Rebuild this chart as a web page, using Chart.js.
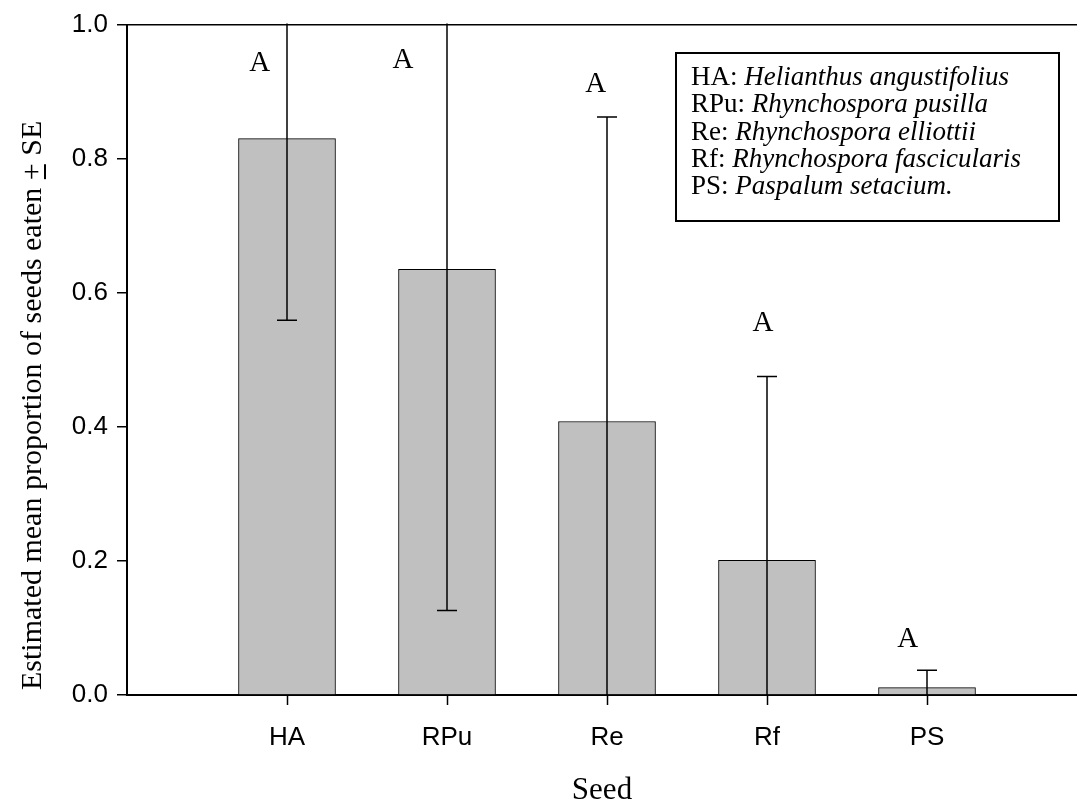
<!DOCTYPE html>
<html lang="en">

<head>
    <meta charset="UTF-8">
    <title>Estimated mean proportion of seeds eaten</title>
    <script src="https://cdn.jsdelivr.net/npm/chart.js"></script>
    <style>
        body { margin: 0; background: #fff; }
        #wrap { position: relative; width: 1077px; height: 804px; }
    </style>
</head>

<body>
    <div id="wrap">
        <canvas id="seedChart"></canvas>
    </div>

    <script>
        // seed codes and estimated means (+ SE)
        const seedCodes = ['HA', 'RPu', 'Re', 'Rf', 'PS'];
        const seedMeans = [0.830, 0.635, 0.408, 0.201, 0.011];
        const seedSE = [0.271, 0.509, 0.454, 0.274, 0.026];
        const yTicks = [0, 0.2, 0.4, 0.6, 0.8, 1.0];

        // significance letters and where they sit (data units)
        const letterText = ['A', 'A', 'A', 'A', 'A'];
        const letterX = [0.83, 1.725, 2.93, 3.975, 4.88];
        const letterY = [0.942, 0.946, 0.911, 0.554, 0.083];

        // legend box text
        const legendCodes = ['HA', 'RPu', 'Re', 'Rf', 'PS'];
        const legendNames = ['Helianthus angustifolius', 'Rhynchospora pusilla', 'Rhynchospora elliottii',
            'Rhynchospora fascicularis', 'Paspalum setacium.'];

        const serif = '"Liberation Serif", "Times New Roman", serif';
        const sans = '"Liberation Sans", Arial, sans-serif';

        // error bars, letters, legend box and y title
        const extras = {
            id: 'extras',
            afterDatasetsDraw(chart) {
                const ctx = chart.ctx;
                const xs = chart.scales.x, ys = chart.scales.y;
                const area = chart.chartArea;

                ctx.save();
                ctx.beginPath();
                ctx.rect(area.left, area.top - 1, area.right - area.left, area.bottom - area.top + 1);
                ctx.clip();
                ctx.strokeStyle = '#000';
                ctx.lineWidth = 1.5;
                seedMeans.forEach((m, i) => {
                    const px = xs.getPixelForValue(i + 1);
                    const hi = ys.getPixelForValue(m + seedSE[i]);
                    const lo = ys.getPixelForValue(m - seedSE[i]);
                    ctx.beginPath();
                    ctx.moveTo(px, hi);
                    ctx.lineTo(px, lo);
                    ctx.moveTo(px - 10, hi);
                    ctx.lineTo(px + 10, hi);
                    ctx.moveTo(px - 10, lo);
                    ctx.lineTo(px + 10, lo);
                    ctx.stroke();
                });
                ctx.restore();

                ctx.save();
                ctx.fillStyle = '#000';
                ctx.font = '29px ' + serif;
                ctx.textAlign = 'center';
                ctx.textBaseline = 'middle';
                letterText.forEach((t, i) => {
                    ctx.fillText(t, xs.getPixelForValue(letterX[i]), ys.getPixelForValue(letterY[i]));
                });
                ctx.restore();
            },
            afterDraw(chart) {
                const ctx = chart.ctx;

                // legend box
                ctx.save();
                ctx.strokeStyle = '#000';
                ctx.lineWidth = 2;
                ctx.strokeRect(676, 53, 383, 168);
                ctx.fillStyle = '#000';
                ctx.textBaseline = 'alphabetic';
                ctx.textAlign = 'left';
                legendCodes.forEach((c, i) => {
                    const y = 85 + i * 27.3;
                    ctx.font = '27px ' + serif;
                    const lead = c + ': ';
                    ctx.fillText(lead, 691, y);
                    const w = ctx.measureText(lead).width;
                    ctx.font = 'italic 27px ' + serif;
                    ctx.fillText(legendNames[i], 691 + w, y);
                });
                ctx.restore();

                // y axis title with underlined plus
                ctx.save();
                ctx.translate(41, 690);
                ctx.rotate(-Math.PI / 2);
                ctx.font = '30px ' + serif;
                ctx.fillStyle = '#000';
                ctx.textBaseline = 'alphabetic';
                ctx.textAlign = 'left';
                const partA = 'Estimated mean proportion of seeds eaten ';
                const partB = '+';
                const partC = ' SE';
                ctx.fillText(partA, 0, 0);
                const wa = ctx.measureText(partA).width;
                ctx.fillText(partB, wa, 0);
                const wb = ctx.measureText(partB).width;
                ctx.fillText(partC, wa + wb, 0);
                ctx.fillRect(wa + 1, 3, wb - 2, 2);
                ctx.restore();
            }
        };

        new Chart(document.getElementById('seedChart'), {
            type: 'bar',
            data: {
                datasets: [{
                    data: seedMeans.map((m, i) => ({ x: i + 1, y: m })),
                    backgroundColor: '#c0c0c0',
                    borderColor: '#000',
                    borderWidth: 1,
                    barThickness: 97
                }]
            },
            options: {
                responsive: true,
                maintainAspectRatio: false,
                animation: false,
                layout: { padding: { left: 0, right: 0, top: 23, bottom: 0 } },
                plugins: {
                    legend: { display: false },
                    tooltip: { enabled: false }
                },
                scales: {
                    x: {
                        type: 'linear',
                        offset: false,
                        min: 0,
                        max: 5.9375,
                        afterBuildTicks: scale => {
                            scale.ticks = seedCodes.map((c, i) => ({ value: i + 1 }));
                        },
                        afterFit: scale => { scale.height = 109; },
                        ticks: {
                            callback: v => seedCodes[v - 1],
                            color: '#000',
                            font: { family: sans, size: 26 },
                            padding: 17,
                            maxRotation: 0
                        },
                        grid: {
                            offset: false,
                            color: 'transparent',
                            tickColor: '#000',
                            tickLength: 10,
                            tickWidth: 1.5
                        },
                        border: { color: '#000', width: 2 },
                        title: {
                            display: true,
                            text: 'Seed',
                            color: '#000',
                            font: { family: serif, size: 31, lineHeight: 1 },
                            padding: { top: 0, bottom: -2 }
                        }
                    },
                    y: {
                        min: 0,
                        max: 1,
                        afterBuildTicks: scale => {
                            scale.ticks = yTicks.map(v => ({ value: v }));
                        },
                        afterFit: scale => { scale.width = 127; },
                        ticks: {
                            callback: v => v.toFixed(1),
                            color: '#000',
                            font: { family: sans, size: 26 },
                            padding: 9
                        },
                        grid: {
                            color: c => (c.tick && c.tick.value === 1 ? '#000' : 'transparent'),
                            lineWidth: 1.5,
                            tickColor: '#000',
                            tickLength: 10,
                            tickWidth: 1.5
                        },
                        border: { color: '#000', width: 2 }
                    }
                }
            },
            plugins: [extras]
        });
    </script>
</body>

</html>
